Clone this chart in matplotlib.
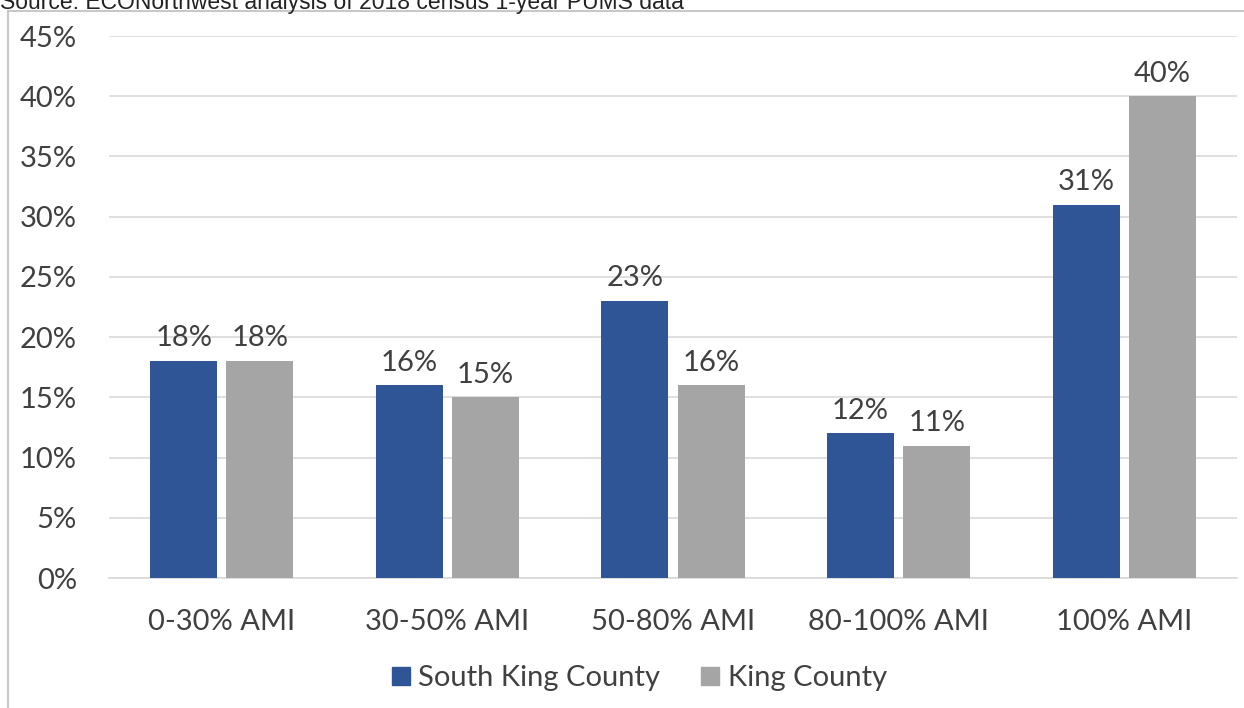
import matplotlib.pyplot as plt
import matplotlib.patches as mpatches
from matplotlib.lines import Line2D
import numpy as np

categories = ['0-30% AMI', '30-50% AMI', '50-80% AMI', '80-100% AMI', '100% AMI']
south_king = [18, 16, 23, 12, 31]
king = [18, 15, 16, 11, 40]
series_names = ['South King County', 'King County']
source_text = 'Source: ECONorthwest analysis of 2018 census 1-year PUMS data'

plt.rcParams['font.family'] = ['Lato', 'DejaVu Sans']
text_col = '#404040'
blue = '#2F5597'
gray = '#A5A5A5'

fig = plt.figure(figsize=(12.44, 7.08), dpi=100)
ax = fig.add_axes([0.0876, 0.1836, 0.9068, 0.7655])

x = np.arange(len(categories))
off = 0.169
w = 0.297
b1 = ax.bar(x - off, south_king, w, color=blue, zorder=3)
b2 = ax.bar(x + off, king, w, color=gray, zorder=3)
for bars in (b1, b2):
    ax.bar_label(bars, labels=[f'{v:.0f}%' for v in bars.datavalues],
                 padding=7, fontsize=21, color=text_col)

ax.set_xlim(-0.5, 4.5)
ax.set_ylim(0, 45)
ax.set_yticks(range(0, 46, 5))
ax.set_yticklabels([f'{t}%' for t in range(0, 46, 5)])
ax.set_xticks(x)
ax.set_xticklabels(categories)
ax.tick_params(axis='both', length=0, labelsize=21, labelcolor=text_col)
ax.tick_params(axis='y', pad=23)
ax.tick_params(axis='x', pad=22)
ax.grid(axis='y', color='#D9D9D9', linewidth=1.2, zorder=0)
for s in ['top', 'right', 'left']:
    ax.spines[s].set_visible(False)
ax.spines['bottom'].set_color('#D9D9D9')
ax.spines['bottom'].set_linewidth(1.2)

handles = [mpatches.Patch(color=blue), mpatches.Patch(color=gray)]
fig.legend(handles, series_names, loc='center', bbox_to_anchor=(0.514, 0.042),
           ncol=2, frameon=False, fontsize=21, labelcolor=text_col,
           handlelength=0.6, handleheight=0.6, handletextpad=0.3, columnspacing=1.4)

# outer frame and cut-off source line
fig.add_artist(Line2D([8/1244, 1], [1 - 11/708, 1 - 11/708], transform=fig.transFigure,
                      color='#C8C8C8', linewidth=1.5))
fig.add_artist(Line2D([8/1244, 8/1244], [0, 1 - 11/708], transform=fig.transFigure,
                      color='#C8C8C8', linewidth=1.5))
fig.text(0.0, 1 - 9/708, source_text, fontsize=16.5, family=['Liberation Sans'],
         color='#222222', va='baseline', ha='left')

fig.savefig('out.png', dpi=100)
